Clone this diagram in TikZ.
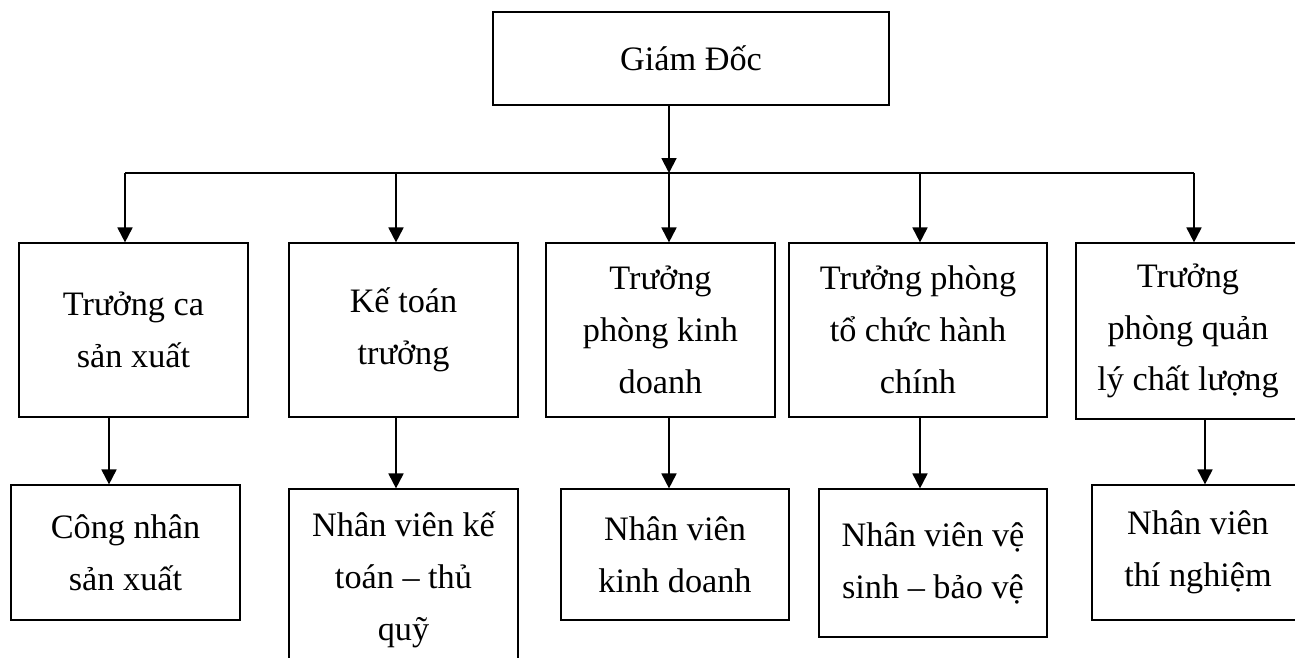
\documentclass[tikz,border=0pt]{standalone}
\usepackage{fontspec}
\setmainfont{Liberation Serif}
\usetikzlibrary{arrows.meta}

\begin{document}
\begin{tikzpicture}[x=0.02cm,y=-0.02cm,
    box/.style={draw,line width=0.7pt,rectangle,align=center,inner sep=0pt,
        font=\fontsize{19.5}{29.5}\selectfont},
    arr/.style={line width=1.1pt,-{Triangle[width=8.5pt,length=8.5pt]}}]
    \useasboundingbox (0,0) rectangle (1295,657);

    % Top box
    \node[box,minimum width=7.92cm,minimum height=1.86cm] (gd) at (691,58.5) {Giám Đốc};

    % First row: heads
    \node[box,minimum width=4.58cm,minimum height=3.48cm] (r1) at (133.5,330) {Trưởng ca\\sản xuất};
    \node[box,minimum width=4.58cm,minimum height=3.48cm] (r2) at (403.5,330) {Kế toán\\trưởng};
    \node[box,minimum width=4.58cm,minimum height=3.48cm] (r3) at (660.5,330) {Trưởng\\phòng kinh\\doanh};
    \node[box,minimum width=5.16cm,minimum height=3.48cm] (r4) at (918,330) {Trưởng phòng\\tổ chức hành\\chính};
    \node[box,minimum width=4.48cm,minimum height=3.52cm] (r5) at (1188,331) {Trưởng\\phòng quản\\lý chất lượng};

    % Second row: staff
    \node[box,minimum width=4.58cm,minimum height=2.70cm] (w1) at (125.5,552.5) {Công nhân\\sản xuất};
    \node[box,minimum width=4.58cm,minimum height=3.62cm] (w2) at (403.5,579.5) {Nhân viên kế\\toán – thủ\\quỹ};
    \node[box,minimum width=4.56cm,minimum height=2.62cm] (w3) at (675,554.5) {Nhân viên\\kinh doanh};
    \node[box,minimum width=4.56cm,minimum height=2.96cm] (w4) at (933,563) {Nhân viên vệ\\sinh – bảo vệ};
    \node[box,minimum width=4.24cm,minimum height=2.70cm] (w5) at (1198,552.5) {Nhân viên\\thí nghiệm};

    % Bus line under the top box
    \coordinate (bus) at (669,173);
    \coordinate (c1) at (125,173);
    \coordinate (c2) at (396,173);
    \coordinate (c3) at (669,173);
    \coordinate (c4) at (920,173);
    \coordinate (c5) at (1194,173);
    \draw[arr] (gd.south -| bus) -- (bus);
    \draw[line width=1.1pt] (c1) -- (c5);

    % Arrows down to the heads
    \foreach \i in {1,...,5}
        \draw[arr] (c\i) -- (c\i |- r\i.north);

    % Arrows from heads to staff
    \coordinate (d1) at (109,0);
    \coordinate (d2) at (396,0);
    \coordinate (d3) at (669,0);
    \coordinate (d4) at (920,0);
    \coordinate (d5) at (1205,0);
    \foreach \i in {1,...,5}
        \draw[arr] (d\i |- r\i.south) -- (d\i |- w\i.north);
\end{tikzpicture}
\end{document}
